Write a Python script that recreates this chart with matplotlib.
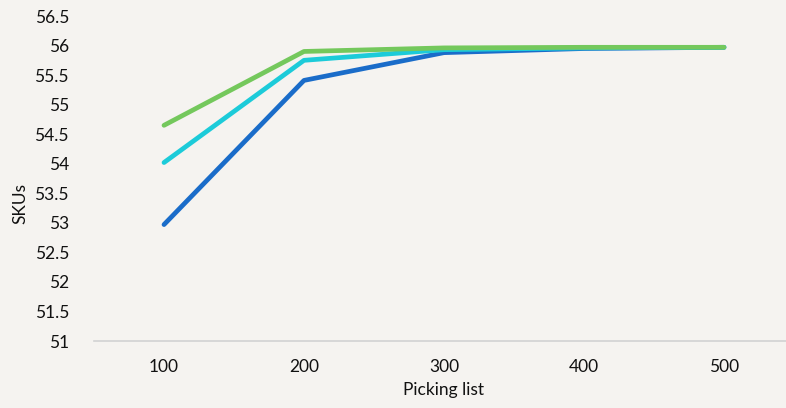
import matplotlib.pyplot as plt

picking = ['100', '200', '300', '400', '500']
blue = [52.97, 55.41, 55.88, 55.95, 55.97]
cyan = [54.02, 55.75, 55.93, 55.96, 55.97]
green = [54.65, 55.90, 55.96, 55.97, 55.97]
yticks = [51, 51.5, 52, 52.5, 53, 53.5, 54, 54.5, 55, 55.5, 56, 56.5]

bg = '#f5f3f0'
plt.rcParams['font.family'] = ['Lato', 'DejaVu Sans']

fig = plt.figure(figsize=(7.86, 4.08), dpi=100, facecolor=bg)
ax = fig.add_axes([94 / 786, 67 / 408, 700 / 786, 325 / 408])
ax.set_facecolor(bg)

x = range(len(picking))
for vals, col in [(blue, '#1a6cc9'), (cyan, '#1ccbd9'), (green, '#74c85c')]:
    ax.plot(x, vals, color=col, lw=3.4, solid_capstyle='round', solid_joinstyle='round')

ax.set_xlim(-0.5, len(picking) - 0.5)
ax.set_ylim(51, 56.5)
ax.set_xticks(list(x))
ax.set_xticklabels(picking)
ax.set_yticks(yticks)
ax.set_yticklabels(['%g' % t for t in yticks])
ax.tick_params(length=0, labelsize=12.5, colors='#111111')
ax.tick_params(axis='x', pad=13)
ax.tick_params(axis='y', pad=18)
for s in ['top', 'right', 'left']:
    ax.spines[s].set_visible(False)
ax.spines['bottom'].set_color('#d2d2d2')
ax.spines['bottom'].set_linewidth(1.2)

ax.set_xlabel('Picking list', fontsize=12.5, color='#111111', labelpad=5)
fig.text(20 / 786, 0.5, 'SKUs', rotation=90, fontsize=12.5, color='#111111', ha='center', va='center')

fig.savefig('out.png', dpi=100, facecolor=bg)
